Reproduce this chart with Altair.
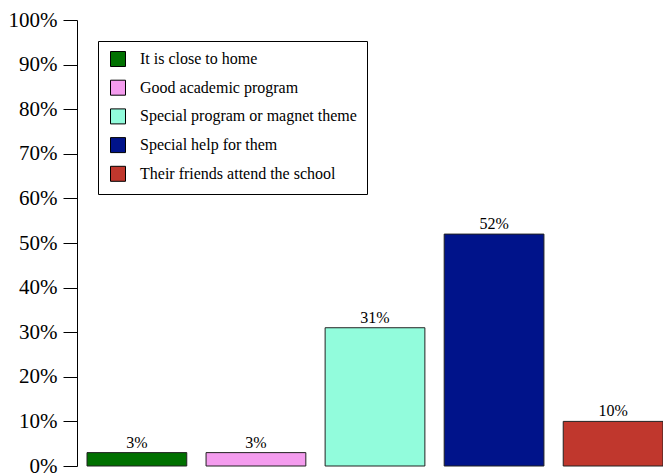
import altair as alt
import pandas as pd

categories = [
    "It is close to home",
    "Good academic program",
    "Special program or magnet theme",
    "Special help for them",
    "Their friends attend the school",
]
values = [0.03, 0.03, 0.31, 0.52, 0.10]
colors = ["#007100", "#F49CEE", "#92FCDC", "#00138A", "#C0372D"]
y_ticks = [0, 0.1, 0.2, 0.3, 0.4, 0.5, 0.6, 0.7, 0.8, 0.9, 1.0]

df = pd.DataFrame({"category": categories, "value": values})

FONT = "Liberation Serif"

x = alt.X("category:N", sort=categories, axis=None,
          scale=alt.Scale(paddingInner=0.162, paddingOuter=0.042, align=1))
y = alt.Y("value:Q",
          scale=alt.Scale(domain=[0, 1], nice=False),
          axis=alt.Axis(values=y_ticks, format=".0%", title=None, grid=False,
                        domainColor="black", tickColor="black", tickSize=14,
                        labelPadding=6, labelFont=FONT, labelFontSize=21,
                        labelColor="black", domainWidth=1, tickWidth=1))

bars = alt.Chart(df).mark_bar(stroke="#222222", strokeWidth=1).encode(
    x=x,
    y=y,
    color=alt.Color("category:N", sort=categories,
                    scale=alt.Scale(domain=categories, range=colors),
                    legend=alt.Legend(title=None, orient="none", legendX=21, legendY=21,
                                      direction="vertical",
                                      symbolType="square", symbolSize=225,
                                      symbolStrokeColor="black", symbolStrokeWidth=1,
                                      symbolOffset=2,
                                      labelFont=FONT, labelFontSize=16, labelColor="black",
                                      labelOffset=14, rowPadding=8.7,
                                      padding=10, strokeColor="black",
                                      fillColor="white", labelLimit=400)),
)

labels = alt.Chart(df).mark_text(font=FONT, fontSize=16, color="black",
                                 baseline="alphabetic", dy=-5).encode(
    x=x,
    y=alt.Y("value:Q"),
    text=alt.Text("value:Q", format=".0%"),
)

chart = (bars + labels).properties(
    width=586, height=446,
    autosize=alt.AutoSizeParams(type="none"),
    padding={"left": 69, "top": 12, "right": 0, "bottom": 7},
).configure_view(stroke=None).configure_legend(symbolStrokeColor="black")

chart.save("out.html", embed_options={"renderer": "svg", "actions": False})
